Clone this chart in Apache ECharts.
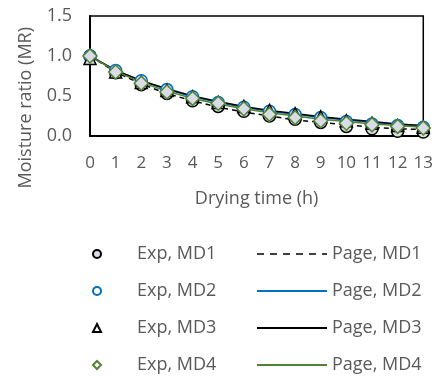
<!DOCTYPE html>
<html>
<head>
<meta charset="utf-8">
<script src="https://cdn.jsdelivr.net/npm/echarts@6/dist/echarts.min.js"></script>
<style>
  html, body { margin: 0; padding: 0; background: #fff; }
  #chart { width: 436px; height: 376px; }
</style>
</head>
<body>
<div id="chart"></div>
<script>
// Drying time (h)
const hours = ['0','1','2','3','4','5','6','7','8','9','10','11','12','13'];

// Experimental moisture ratios
const expMD1 = [1.00, 0.79, 0.64, 0.53, 0.44, 0.37, 0.31, 0.25, 0.21, 0.17, 0.12, 0.09, 0.06, 0.05];
const expMD2 = [1.00, 0.82, 0.69, 0.58, 0.49, 0.42, 0.36, 0.31, 0.27, 0.23, 0.18, 0.15, 0.13, 0.11];
const expMD3 = [0.97, 0.80, 0.67, 0.57, 0.49, 0.42, 0.37, 0.32, 0.28, 0.24, 0.19, 0.16, 0.13, 0.11];
const expMD4 = [1.00, 0.80, 0.66, 0.55, 0.47, 0.41, 0.34, 0.27, 0.23, 0.19, 0.16, 0.14, 0.12, 0.10];

// Page model predictions
const pageMD1 = [1.00, 0.80, 0.65, 0.53, 0.44, 0.36, 0.30, 0.25, 0.20, 0.17, 0.14, 0.11, 0.09, 0.08];
const pageMD2 = [1.00, 0.82, 0.69, 0.58, 0.49, 0.42, 0.36, 0.31, 0.27, 0.23, 0.20, 0.17, 0.14, 0.12];
const pageMD3 = [1.00, 0.82, 0.69, 0.59, 0.50, 0.43, 0.37, 0.32, 0.28, 0.24, 0.21, 0.18, 0.15, 0.13];
const pageMD4 = [1.00, 0.81, 0.67, 0.56, 0.47, 0.40, 0.34, 0.29, 0.25, 0.21, 0.18, 0.15, 0.13, 0.11];

const yTicks = [0, 0.5, 1.0, 1.5];

const FONT = '"Open Sans", sans-serif';
const FS = 18;
const GREY_TEXT = '#595959';
const BLUE = '#0070C0';
const GREEN = '#548235';
const FILL = '#d9dce4';

function expSeries(name, data, symbol, color, size, z) {
  return {
    name, type: 'line', data,
    symbol, symbolSize: size,
    lineStyle: { width: 0, opacity: 0 },
    itemStyle: { color: FILL, borderColor: color, borderWidth: 1.5 },
    z
  };
}
function pageSeries(name, data, color, type) {
  return {
    name, type: 'line', data,
    symbol: 'none',
    lineStyle: { color, width: 1.5, type },
    itemStyle: { color },
    z: 1
  };
}
// legend entry for a model curve: line only, no marker
function pageLegendItem(name) {
  const item = { name, itemStyle: { opacity: 0, borderWidth: 0 } };
  if (name === 'Page, MD1') item.lineStyle = { type: [7, 6], width: 1.5 };
  return item;
}

const chart = echarts.init(document.getElementById('chart'), null, { renderer: 'canvas' });
chart.setOption({
  animation: false,
  textStyle: { fontFamily: FONT },
  grid: { left: 90, right: 12, top: 16, bottom: 240, show: true, borderColor: '#000', borderWidth: 1.5 },
  xAxis: {
    type: 'category', data: hours, boundaryGap: false,
    axisLine: { lineStyle: { color: '#000', width: 2 } },
    axisTick: { show: false },
    axisLabel: { color: GREY_TEXT, fontSize: 17, margin: 19, fontFamily: FONT,
      interval: 0, hideOverlap: false },
    name: 'Drying time (h)', nameLocation: 'middle', nameGap: 54,
    nameTextStyle: { color: GREY_TEXT, fontSize: FS, fontFamily: FONT }
  },
  yAxis: {
    type: 'value', min: yTicks[0], max: yTicks[yTicks.length - 1], interval: 0.5,
    axisLine: { show: true, lineStyle: { color: '#000', width: 2 } },
    axisTick: { show: false },
    splitLine: { show: false },
    axisLabel: { color: GREY_TEXT, fontSize: FS, margin: 18, fontFamily: FONT,
      formatter: v => v.toFixed(1) }
  },
  graphic: [{
    type: 'text', left: 17, top: 27, rotation: Math.PI / 2,
    style: { text: 'Moisture ratio (MR)', fill: GREY_TEXT, font: FS + 'px ' + FONT }
  }],
  legend: [{
    orient: 'vertical', left: 62, top: 245, padding: 0,
    itemWidth: 70, itemHeight: 10, itemGap: 19,
    textStyle: { color: GREY_TEXT, fontSize: FS, fontFamily: FONT },
    data: [
      { name: 'Exp, MD1', itemStyle: { color: FILL, borderColor: '#000', borderWidth: 2 } },
      { name: 'Exp, MD2', itemStyle: { color: '#fff', borderColor: BLUE, borderWidth: 2 } },
      { name: 'Exp, MD3', itemStyle: { color: '#fff', borderColor: '#000', borderWidth: 2 } },
      { name: 'Exp, MD4', itemStyle: { color: '#fff', borderColor: GREEN, borderWidth: 2 } }
    ]
  }, {
    orient: 'vertical', left: 256, top: 245, padding: 0,
    itemWidth: 70, itemHeight: 10, itemGap: 19,
    textStyle: { color: GREY_TEXT, fontSize: FS, fontFamily: FONT },
    data: ['Page, MD1', 'Page, MD2', 'Page, MD3', 'Page, MD4'].map(pageLegendItem)
  }],
  series: [
    pageSeries('Page, MD1', pageMD1, '#000', [5, 4]),
    pageSeries('Page, MD2', pageMD2, BLUE, 'solid'),
    pageSeries('Page, MD3', pageMD3, '#000', 'solid'),
    pageSeries('Page, MD4', pageMD4, GREEN, 'solid'),
    expSeries('Exp, MD1', expMD1, 'circle', '#000', 12, 2),
    expSeries('Exp, MD2', expMD2, 'circle', BLUE, 12, 3),
    expSeries('Exp, MD3', expMD3, 'triangle', '#000', 12, 4),
    expSeries('Exp, MD4', expMD4, 'diamond', GREEN, 14, 5)
  ]
});
</script>
</body>
</html>
